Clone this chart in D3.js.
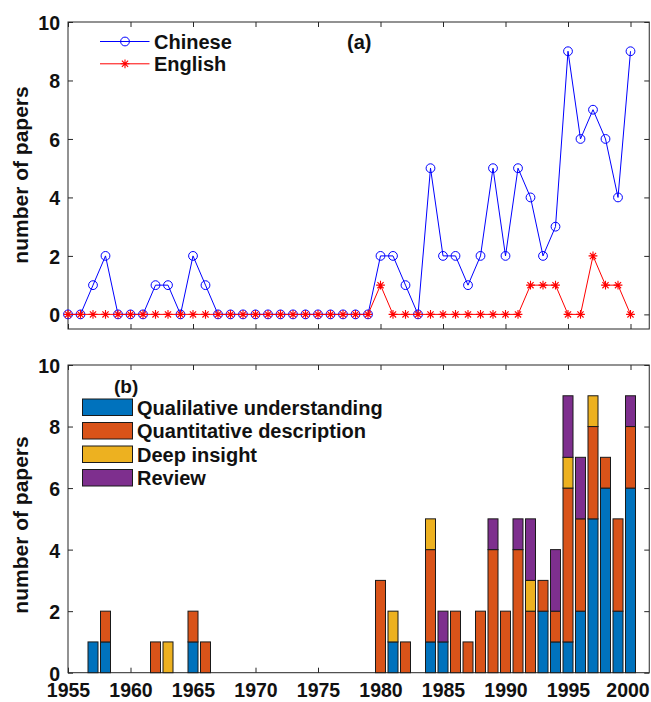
<!DOCTYPE html>
<html>
<head>
<meta charset="utf-8">
<script src="https://cdn.jsdelivr.net/npm/d3@7"></script>
<style>
  html, body { margin: 0; padding: 0; background: #fff; }
  svg { display: block; font-family: "Liberation Sans", Arial, sans-serif; }
</style>
</head>
<body>
<svg id="chart" width="651" height="702"></svg>
<script>
// ---------- data ----------
const years = [1955,1956,1957,1958,1959,1960,1961,1962,1963,1964,1965,1966,1967,1968,1969,1970,
  1971,1972,1973,1974,1975,1976,1977,1978,1979,1980,1981,1982,1983,1984,1985,1986,1987,1988,1989,
  1990,1991,1992,1993,1994,1995,1996,1997,1998,1999,2000];
const chinese = [0,0,1,2,0,0,0,1,1,0,2,1,0,0,0,0,0,0,0,0,0,0,0,0,0,2,2,1,0,5,2,2,1,2,5,2,5,4,2,3,9,6,7,6,4,9];
const english = [0,0,0,0,0,0,0,0,0,0,0,0,0,0,0,0,0,0,0,0,0,0,0,0,0,1,0,0,0,0,0,0,0,0,0,0,0,1,1,1,0,0,2,1,1,0];

const barYears     = [1957,1958,1962,1963,1965,1966,1980,1981,1982,1984,1985,1986,1987,1988,1989,1990,1991,1992,1993,1994,1995,1996,1997,1998,1999,2000];
const qualitative  = [1,1,0,0,1,0,0,1,0,1,1,0,0,0,0,0,0,0,2,1,1,2,5,6,2,6];
const quantitative = [0,1,1,0,1,1,3,0,1,3,0,2,1,2,4,2,4,2,1,1,5,3,3,1,3,2];
const deepInsight  = [0,0,0,1,0,0,0,1,0,1,0,0,0,0,0,0,0,1,0,0,1,0,1,0,0,0];
const review       = [0,0,0,0,0,0,0,0,0,0,1,0,0,0,1,0,1,2,0,2,2,2,0,0,0,1];

const xTicks = [1955,1960,1965,1970,1975,1980,1985,1990,1995,2000];
const yTicks = [0,2,4,6,8,10];
const lineNames = ["Chinese","English"];
const barNames = ["Qualilative understanding","Quantitative description","Deep insight","Review"];
const barKeys = ["qual","quant","deep","rev"];
const barColors = ["#0072BD","#D95319","#EDB120","#7E2F8E"];

// ---------- layout ----------
const svg = d3.select("#chart");
const L = 68, R = 649.25;
const axisColor = "#262626";
const x = d3.scaleLinear().domain([1955, 2001.5]).range([L, R]);
const yA = d3.scaleLinear().domain([-0.5, 10]).range([329, 22]);
const yB = d3.scaleLinear().domain([0, 10]).range([672.7, 365]);

function drawFrame(y, showXLabels) {
  const [b, t] = y.range();
  const g = svg.append("g");
  g.append("rect").attr("x", L).attr("y", t).attr("width", R - L).attr("height", b - t)
    .attr("fill", "none").attr("stroke", axisColor).attr("stroke-width", 1);
  const bottom = g.append("g").attr("transform", `translate(0,${b})`)
    .call(d3.axisBottom(x).tickValues(xTicks).tickSize(-5).tickPadding(13)
      .tickFormat(showXLabels ? d3.format("d") : () => ""));
  const top = g.append("g").attr("transform", `translate(0,${t})`)
    .call(d3.axisTop(x).tickValues(xTicks).tickSize(-5).tickFormat(() => ""));
  const left = g.append("g").attr("transform", `translate(${L},0)`)
    .call(d3.axisLeft(y).tickValues(yTicks).tickSize(-5).tickPadding(8).tickFormat(d3.format("d")));
  const right = g.append("g").attr("transform", `translate(${R},0)`)
    .call(d3.axisRight(y).tickValues(yTicks).tickSize(-5).tickFormat(() => ""));
  [bottom, top, left, right].forEach(a => {
    a.select(".domain").remove();
    a.selectAll(".tick line").attr("stroke", axisColor);
    a.selectAll("text").attr("fill", "#111").attr("font-size", "19.5px").attr("font-weight", "bold")
      .attr("font-family", '"Liberation Sans", Arial, sans-serif');
  });
  left.selectAll("text").attr("dy", "0.38em");
  bottom.selectAll("text").attr("dy", "0.6em")
    .attr("dx", d => d === xTicks[xTicks.length - 1] ? -3 : 0);
}

// ---------- panel (a) ----------
drawFrame(yA, false);

const line = d3.line().x((d, i) => x(years[i])).y(d => yA(d));
svg.append("path").datum(chinese).attr("d", line).attr("fill", "none").attr("stroke", "#0000FF").attr("stroke-width", 1);
svg.append("g").selectAll("circle").data(chinese).join("circle")
  .attr("cx", (d, i) => x(years[i])).attr("cy", d => yA(d)).attr("r", 4.4)
  .attr("fill", "none").attr("stroke", "#0000FF").attr("stroke-width", 1);

svg.append("path").datum(english).attr("d", line).attr("fill", "none").attr("stroke", "#FF0000").attr("stroke-width", 1);

function starPath(cx, cy, s) {
  const d = s * 0.7071;
  return `M${cx - s},${cy}L${cx + s},${cy}M${cx},${cy - s}L${cx},${cy + s}` +
         `M${cx - d},${cy - d}L${cx + d},${cy + d}M${cx - d},${cy + d}L${cx + d},${cy - d}`;
}
svg.append("g").selectAll("path").data(english).join("path")
  .attr("d", (d, i) => starPath(x(years[i]), yA(d), 4.4))
  .attr("fill", "none").attr("stroke", "#FF0000").attr("stroke-width", 1.1);

// legend (a)
const legA = svg.append("g");
const lineColors = ["#0000FF", "#FF0000"];
lineNames.forEach((name, i) => {
  const yy = 41.5 + i * 22.3;
  legA.append("line").attr("x1", 100).attr("x2", 149.5).attr("y1", yy).attr("y2", yy)
    .attr("stroke", lineColors[i]).attr("stroke-width", 1);
  if (i === 0) {
    legA.append("circle").attr("cx", 125).attr("cy", yy).attr("r", 4.4)
      .attr("fill", "none").attr("stroke", lineColors[i]).attr("stroke-width", 1);
  } else {
    legA.append("path").attr("d", starPath(125, yy, 4.4)).attr("fill", "none")
      .attr("stroke", lineColors[i]).attr("stroke-width", 1.1);
  }
  legA.append("text").attr("x", 154).attr("y", yy).attr("dy", "0.36em")
    .attr("font-size", "20px").attr("font-weight", "bold").attr("fill", "#111").text(name);
});
svg.append("text").attr("x", 347).attr("y", 49).attr("font-size", "20px").attr("font-weight", "bold")
  .attr("fill", "#111").text("(a)");

// ---------- panel (b) ----------
drawFrame(yB, true);

const table = barYears.map((yr, i) => ({
  year: yr, qual: qualitative[i], quant: quantitative[i], deep: deepInsight[i], rev: review[i]
}));
const stacked = d3.stack().keys(barKeys)(table);
const barW = 0.8 * (x(1) - x(0));
stacked.forEach((layer, k) => {
  svg.append("g").selectAll("rect").data(layer.filter(d => d[1] > d[0])).join("rect")
    .attr("x", d => x(d.data.year) - barW / 2)
    .attr("width", barW)
    .attr("y", d => yB(d[1]))
    .attr("height", d => yB(d[0]) - yB(d[1]))
    .attr("fill", barColors[k]).attr("stroke", "#1a1a1a").attr("stroke-width", 1);
});

// legend (b)
const legB = svg.append("g");
barNames.forEach((name, i) => {
  const top = 399 + i * 23.5;
  legB.append("rect").attr("x", 82.5).attr("y", top).attr("width", 50).attr("height", 16.5)
    .attr("fill", barColors[i]).attr("stroke", "#1a1a1a").attr("stroke-width", 1);
  legB.append("text").attr("x", 137).attr("y", top + 8.5).attr("dy", "0.36em")
    .attr("font-size", "20px").attr("font-weight", "bold").attr("fill", "#111").text(name);
});
svg.append("text").attr("x", 114).attr("y", 393).attr("font-size", "19px").attr("font-weight", "bold")
  .attr("fill", "#111").text("(b)");

// ---------- y titles ----------
[175, 525].forEach(cy => {
  svg.append("text").attr("transform", `translate(28,${cy}) rotate(-90)`)
    .attr("text-anchor", "middle").attr("font-size", "21px").attr("font-weight", "bold")
    .attr("fill", "#111").text("number of papers");
});
</script>
</body>
</html>
